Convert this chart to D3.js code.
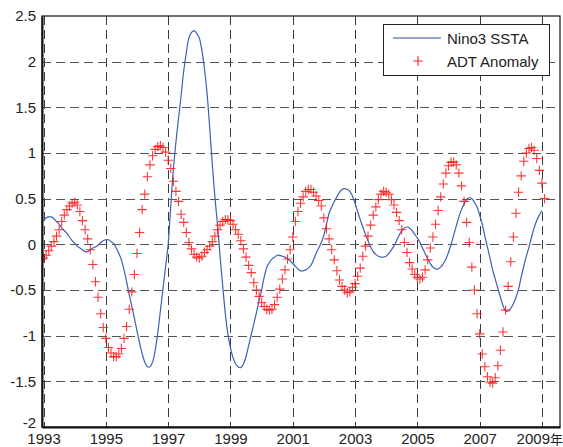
<!DOCTYPE html>
<html>
<head>
<meta charset="utf-8">
<script src="https://cdn.jsdelivr.net/npm/d3@7"></script>
<style>
  html, body { margin: 0; padding: 0; background: #fff; }
  svg { display: block; }
  text { font-family: "Liberation Sans", Arial, "Noto Sans CJK SC", sans-serif; }
</style>
</head>
<body>
<svg id="chart" width="563" height="447"></svg>
<script>
// ---- data ----
const startYear = 1993;            // first monthly sample
const xTickYears = [1993, 1995, 1997, 1999, 2001, 2003, 2005, 2007, 2009];
const xTickLabels = ["1993", "1995", "1997", "1999", "2001", "2003", "2005", "2007", "2009年"];
const yTicks = [-2, -1.5, -1, -0.5, 0, 0.5, 1, 1.5, 2, 2.5];
const seriesNames = ["Nino3 SSTA", "ADT Anomaly"];

// Nino3 SSTA, monthly from Jan 1993
const nino3 = [
  0.27, 0.29, 0.30, 0.30, 0.28, 0.25, 0.22, 0.18, 0.15, 0.12, 0.08, 0.04,
  0.01, -0.02, -0.04, -0.06, -0.08, -0.08, -0.06, -0.04, -0.03, -0.01, 0.02, 0.04,
  0.05, 0.05, 0.03, 0.01, -0.04, -0.10, -0.17, -0.28, -0.41, -0.55, -0.68, -0.81,
  -0.95, -1.08, -1.20, -1.29, -1.34, -1.34, -1.29, -1.16, -0.97, -0.73, -0.49, -0.25,
  0.00, 0.42, 0.82, 1.12, 1.38, 1.63, 1.90, 2.10, 2.26, 2.32, 2.34, 2.31,
  2.26, 2.12, 1.92, 1.65, 1.28, 0.88, 0.52, 0.22, -0.13, -0.45, -0.75, -0.98,
  -1.13, -1.24, -1.31, -1.34, -1.35, -1.31, -1.23, -1.11, -0.99, -0.87, -0.75, -0.62,
  -0.50, -0.36, -0.25, -0.20, -0.16, -0.14, -0.12, -0.12, -0.13, -0.14, -0.16, -0.18,
  -0.21, -0.24, -0.27, -0.29, -0.29, -0.28, -0.26, -0.23, -0.17, -0.10, -0.04, 0.02,
  0.10, 0.22, 0.34, 0.41, 0.47, 0.52, 0.57, 0.60, 0.61, 0.60, 0.58, 0.53,
  0.45, 0.36, 0.27, 0.19, 0.11, 0.04, -0.03, -0.08, -0.11, -0.13, -0.14, -0.14,
  -0.13, -0.10, -0.06, -0.02, 0.04, 0.10, 0.15, 0.18, 0.19, 0.18, 0.15, 0.11,
  0.07, 0.02, -0.04, -0.10, -0.16, -0.21, -0.25, -0.27, -0.27, -0.25, -0.21, -0.16,
  -0.09, 0.00, 0.10, 0.20, 0.30, 0.38, 0.44, 0.49, 0.51, 0.50, 0.46, 0.41,
  0.32, 0.22, 0.09, -0.03, -0.15, -0.28, -0.38, -0.48, -0.58, -0.67, -0.73, -0.73,
  -0.70, -0.65, -0.58, -0.49, -0.36, -0.24, -0.13, -0.03, 0.08, 0.18, 0.26, 0.32,
  0.37
];

// ADT anomaly, monthly from Jan 1993
const adt = [
  -0.15, -0.12, -0.07, -0.02, 0.03, 0.09, 0.16, 0.25, 0.32, 0.38, 0.42, 0.45,
  0.46, 0.43, 0.36, 0.26, 0.16, 0.06, -0.06, -0.22, -0.41, -0.58, -0.76, -0.91,
  -1.03, -1.13, -1.19, -1.23, -1.23, -1.20, -1.14, -1.03, -0.90, -0.71, -0.52, -0.33,
  -0.10, 0.13, 0.38, 0.55, 0.74, 0.87, 0.97, 1.04, 1.07, 1.08, 1.06, 1.01,
  0.92, 0.83, 0.69, 0.58, 0.47, 0.33, 0.24, 0.13, 0.02, -0.05, -0.11, -0.14,
  -0.15, -0.13, -0.09, -0.06, -0.02, 0.03, 0.09, 0.16, 0.21, 0.25, 0.27, 0.27,
  0.26, 0.22, 0.16, 0.11, 0.04, -0.05, -0.14, -0.23, -0.31, -0.42, -0.50, -0.57,
  -0.64, -0.68, -0.71, -0.72, -0.71, -0.66, -0.58, -0.49, -0.38, -0.28, -0.16, -0.06,
  0.08, 0.25, 0.36, 0.45, 0.52, 0.58, 0.60, 0.60, 0.57, 0.53, 0.48, 0.42,
  0.29, 0.17, 0.06, -0.06, -0.17, -0.29, -0.39, -0.46, -0.50, -0.53, -0.52, -0.47,
  -0.43, -0.35, -0.26, -0.13, -0.02, 0.09, 0.21, 0.32, 0.41, 0.49, 0.55, 0.58,
  0.57, 0.55, 0.49, 0.43, 0.35, 0.26, 0.16, 0.02, -0.09, -0.20, -0.27, -0.33,
  -0.36, -0.38, -0.36, -0.28, -0.17, -0.04, 0.08, 0.22, 0.37, 0.52, 0.66, 0.78,
  0.86, 0.90, 0.90, 0.87, 0.78, 0.64, 0.47, 0.24, 0.02, -0.25, -0.50, -0.76,
  -0.98, -1.20, -1.34, -1.45, -1.51, -1.52, -1.46, -1.33, -1.16, -0.96, -0.72, -0.46,
  -0.19, 0.08, 0.34, 0.57, 0.75, 0.91, 1.00, 1.05, 1.06, 1.03, 0.94, 0.81,
  0.67, 0.50
];

// ---- layout ----
const svg = d3.select("#chart");
const pLeft = 42, pRight = 560, pTop = 16, pBottom = 427;
const x = d3.scaleLinear().domain([1992.95, 2009.58]).range([pLeft, pRight]);
const y = d3.scaleLinear().domain([-2, 2.5]).range([pBottom, pTop]);

const tOf = i => startYear + i / 12;
const ninoData = nino3.map((v, i) => ({ t: tOf(i), v }));
const adtData = adt.map((v, i) => ({ t: tOf(i), v }));

// clip
svg.append("clipPath").attr("id", "plotclip")
  .append("rect").attr("x", pLeft).attr("y", pTop).attr("width", pRight - pLeft).attr("height", pBottom - pTop);

// grid
const grid = svg.append("g").attr("stroke", "#3a3a3a").attr("stroke-width", 1).attr("stroke-dasharray", "9,5");
grid.selectAll("line.v").data(xTickYears).join("line").attr("class", "v")
  .attr("x1", d => Math.round(x(d)) + 0.5).attr("x2", d => Math.round(x(d)) + 0.5)
  .attr("y1", pTop).attr("y2", pBottom);
grid.selectAll("line.h").data(yTicks.filter(d => d > -2 && d < 2.5)).join("line").attr("class", "h")
  .attr("y1", d => Math.round(y(d)) + 0.5).attr("y2", d => Math.round(y(d)) + 0.5)
  .attr("x1", pLeft).attr("x2", pRight).attr("stroke", "#555");

// Nino3 line
const line = d3.line().x(d => x(d.t)).y(d => y(d.v)).curve(d3.curveCatmullRom.alpha(0.5));
svg.append("path").datum(ninoData).attr("clip-path", "url(#plotclip)")
  .attr("fill", "none").attr("stroke", "#3d5fb4").attr("stroke-width", 1.2).attr("d", line);

// ADT markers
const ms = 4.7;
const plusPath = (cx, cy) => `M${cx - ms},${cy}H${cx + ms}M${cx},${cy - ms}V${cy + ms}`;
svg.append("g").attr("clip-path", "url(#plotclip)")
  .selectAll("path").data(adtData).join("path")
  .attr("d", d => plusPath(x(d.t), y(d.v)))
  .attr("fill", "none").attr("stroke", "#ff1a1a").attr("stroke-width", 1.1).attr("stroke-opacity", 0.88);

// frame
svg.append("rect").attr("x", pLeft).attr("y", pTop).attr("width", pRight - pLeft).attr("height", pBottom - pTop)
  .attr("fill", "none").attr("stroke", "#111").attr("stroke-width", 1.2);

// axes
const xAxis = d3.axisBottom(x).tickValues(xTickYears)
  .tickFormat((d, i) => xTickLabels[i]).tickSize(0).tickPadding(6);
const gx = svg.append("g").attr("transform", `translate(0,${pBottom})`).call(xAxis);
gx.select(".domain").attr("stroke", "#111").attr("stroke-width", 2);
gx.selectAll("text").attr("font-size", 15).attr("fill", "#222")
  .attr("font-family", "'Liberation Sans', Arial, 'Noto Sans CJK SC', sans-serif");
// last label ("2009年") with a slightly smaller CJK glyph, kept inside the picture
gx.selectAll(".tick").filter((d, i) => i === xTickLabels.length - 1).select("text")
  .each(function (d, i) {
    const t = d3.select(this);
    const label = xTickLabels[xTickLabels.length - 1];
    t.text(null).attr("text-anchor", "end").attr("x", 562.5 - x(d));
    t.append("tspan").text(label.slice(0, 4));
    t.append("tspan").attr("font-size", 13).text(label.slice(4));
  });

const yAxis = d3.axisLeft(y).tickValues(yTicks).tickFormat(d => String(d)).tickSize(0).tickPadding(6);
const gy = svg.append("g").attr("transform", `translate(${pLeft},0)`).call(yAxis);
gy.select(".domain").attr("stroke", "#111").attr("stroke-width", 2);
gy.selectAll("text").attr("font-size", 15).attr("fill", "#222")
  .attr("font-family", "'Liberation Sans', Arial, sans-serif");
// "-2" sits just above the bottom-left corner, clear of "1993"
gy.selectAll(".tick").filter(d => d === -2).select("text").attr("dy", "0.05em");

// legend
const lg = svg.append("g");
lg.append("rect").attr("x", 383.5).attr("y", 24.5).attr("width", 166).attr("height", 51)
  .attr("fill", "#fff").attr("stroke", "#222").attr("stroke-width", 1);
lg.append("line").attr("x1", 393).attr("x2", 441).attr("y1", 38).attr("y2", 38)
  .attr("stroke", "#6f86c6").attr("stroke-width", 1.3);
lg.append("path").attr("d", plusPath(418, 61)).attr("fill", "none")
  .attr("stroke", "#ff1a1a").attr("stroke-width", 1.1);
lg.selectAll("text").data(seriesNames).join("text")
  .attr("x", 447).attr("y", (d, i) => 43.5 + i * 23)
  .attr("font-size", 15).attr("fill", "#222").text(d => d);
</script>
</body>
</html>
